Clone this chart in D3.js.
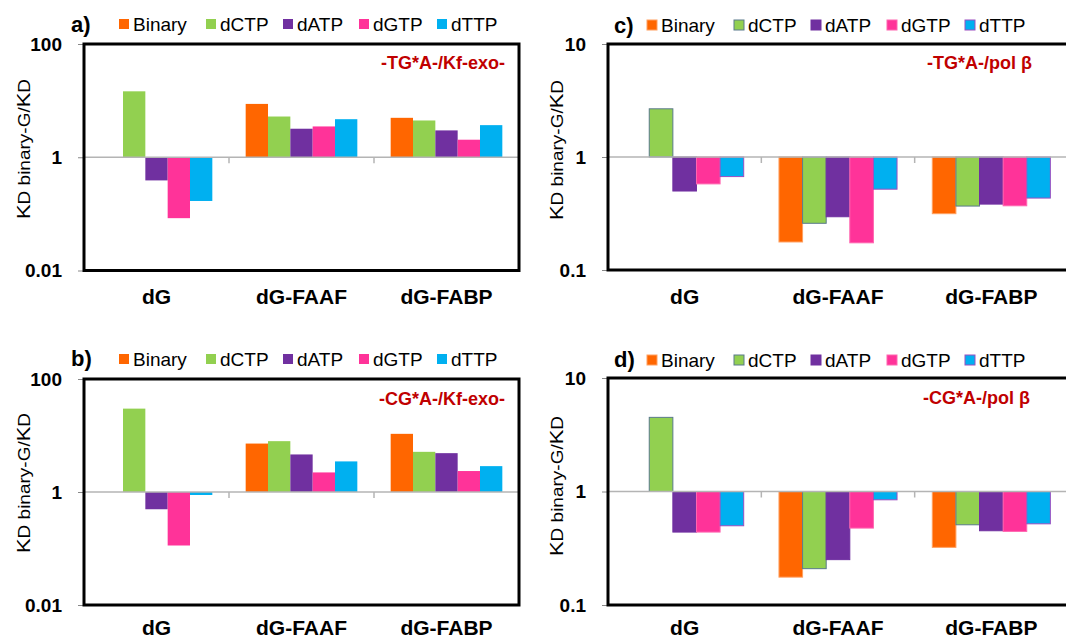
<!DOCTYPE html>
<html lang="en">
<head>
<meta charset="utf-8">
<script src="https://d3js.org/d3.v7.min.js"></script>
<style>
  body { margin: 0; background: #fff; }
  text { font-family: Arial, "Liberation Sans", sans-serif; }
</style>
</head>
<body>
<script>
// categories and series
const categories = ["dG", "dG-FAAF", "dG-FABP"];
const series = ["Binary", "dCTP", "dATP", "dGTP", "dTTP"];
const colors = ["#ff6600", "#92d050", "#7030a0", "#ff3399", "#00b0f0"];

// values per panel, one row per series (Binary, dCTP, dATP, dGTP, dTTP)
const valuesA = [
  [1, 8.75, 4.97],
  [14.6, 5.24, 4.46],
  [0.39, 3.19, 2.98],
  [0.084, 3.5, 2.04],
  [0.169, 4.7, 3.69]
];
const valuesB = [
  [1, 7.2, 10.7],
  [29.9, 7.94, 5.14],
  [0.495, 4.62, 4.87],
  [0.113, 2.22, 2.35],
  [0.885, 3.48, 2.87]
];
const valuesC = [
  [1, 0.177, 0.315],
  [2.67, 0.259, 0.368],
  [0.50, 0.296, 0.383],
  [0.578, 0.174, 0.370],
  [0.671, 0.519, 0.433]
];
const valuesD = [
  [1, 0.176, 0.322],
  [4.5, 0.209, 0.509],
  [0.439, 0.251, 0.451],
  [0.439, 0.476, 0.445],
  [0.499, 0.845, 0.519]
];

// tick labels
const ticksKf = [0.01, 1, 100];
const ticksPol = [0.1, 1, 10];
const tickLabelsKf = ["0.01", "1", "100"];
const tickLabelsPol = ["0.1", "1", "10"];

const svg = d3.select("body").append("svg")
  .attr("width", 1066)
  .attr("height", 639);

// panel layouts
const panels = [
  {label: "a)", note: "-TG*A-/Kf-exo-", values: valuesA, ticks: ticksKf, tickLabels: tickLabelsKf,
   left: 84, right: 519, top: 44, bottom: 270.5, legX: 119, legY: 24, labX: 71, labY: 32,
   noteX: 505, noteY: 69, catY: 304, ylX: 30, ylY: 149, outline: false},
  {label: "b)", note: "-CG*A-/Kf-exo-", values: valuesB, ticks: ticksKf, tickLabels: tickLabelsKf,
   left: 84, right: 519, top: 379, bottom: 605, legX: 119, legY: 359, labX: 71, labY: 366,
   noteX: 505, noteY: 405, catY: 635, ylX: 30, ylY: 483, outline: false},
  {label: "c)", note: "-TG*A-/pol \u03b2", values: valuesC, ticks: ticksPol, tickLabels: tickLabelsPol,
   left: 608, right: 1068, top: 44, bottom: 270, legX: 647, legY: 25, labX: 614, labY: 33,
   noteX: 1032, noteY: 69, catY: 304, ylX: 563, ylY: 150, outline: true},
  {label: "d)", note: "-CG*A-/pol \u03b2", values: valuesD, ticks: ticksPol, tickLabels: tickLabelsPol,
   left: 608, right: 1068, top: 378, bottom: 605, legX: 647, legY: 360, labX: 614, labY: 367,
   noteX: 1030, noteY: 404, catY: 635, ylX: 563, ylY: 486, outline: true}
];

const legendOffsets = [0, 87, 164, 240, 318];
const outlineColors = ["#ffa060", "#5a7a8c", "#7030a0", "#ff66b0", "#9b4fc0"];

panels.forEach(function(p) {
  const g = svg.append("g");

  const x = d3.scaleBand()
    .domain(categories)
    .range([p.left, p.right])
    .paddingInner(0.23)
    .paddingOuter(0.115);

  const xs = d3.scaleBand()
    .domain(series)
    .range([0, x.bandwidth()]);

  const y = d3.scaleLog()
    .domain([p.ticks[0], p.ticks[2]])
    .range([p.bottom, p.top]);

  // bars
  series.forEach(function(s, si) {
    g.selectAll(null)
      .data(p.values[si].map(function(v, ci) { return {cat: categories[ci], value: v}; }))
      .enter()
      .append("rect")
        .attr("x", function(d) { return x(d.cat) + xs(s); })
        .attr("y", function(d) { return Math.min(y(d.value), y(1)); })
        .attr("width", xs.bandwidth())
        .attr("height", function(d) { return Math.abs(y(d.value) - y(1)); })
        .attr("fill", colors[si])
        .attr("stroke", p.outline ? outlineColors[si] : "none")
        .attr("stroke-width", 1);
  });

  // baseline at 1 with category boundary ticks
  g.append("line")
    .attr("x1", p.left).attr("x2", p.right)
    .attr("y1", y(1)).attr("y2", y(1))
    .attr("stroke", "#b4b4b4").attr("stroke-width", 1.5);
  g.selectAll(null)
    .data(categories.slice(1))
    .enter()
    .append("line")
      .attr("x1", function(d) { return x(d) - x.step() * x.paddingInner() / 2; })
      .attr("x2", function(d) { return x(d) - x.step() * x.paddingInner() / 2; })
      .attr("y1", y(1)).attr("y2", y(1) + 6)
      .attr("stroke", "#b4b4b4").attr("stroke-width", 1.5);

  // y axis
  const yAxis = d3.axisLeft(y)
    .tickValues(p.ticks)
    .tickFormat(function(d, i) { return p.tickLabels[i]; })
    .tickSize(6)
    .tickPadding(16);
  const ya = g.append("g")
    .attr("transform", "translate(" + p.left + ",0)")
    .call(yAxis);
  ya.select(".domain").remove();
  ya.selectAll("line").attr("stroke", "#888");
  ya.selectAll("text")
    .attr("font-family", "Arial, 'Liberation Sans', sans-serif")
    .attr("font-size", 19)
    .attr("font-weight", "bold")
    .attr("fill", "#000");

  // frame
  g.append("rect")
    .attr("x", p.left).attr("y", p.top)
    .attr("width", p.right - p.left).attr("height", p.bottom - p.top)
    .attr("fill", "none").attr("stroke", "#000").attr("stroke-width", 3);

  // category labels
  g.selectAll(null)
    .data(categories)
    .enter()
    .append("text")
      .attr("x", function(d) { return x(d) + x.bandwidth() / 2; })
      .attr("y", p.catY)
      .attr("text-anchor", "middle")
      .attr("font-size", 21)
      .attr("font-weight", "bold")
      .text(function(d) { return d; });

  // y label
  const yl = g.append("text")
    .attr("transform", "translate(" + p.ylX + "," + p.ylY + ") rotate(-90) scale(1,0.85)")
    .attr("text-anchor", "middle");
  yl.append("tspan").attr("font-size", 22).text("K");
  yl.append("tspan").attr("font-size", 19).text("D binary-G/");
  yl.append("tspan").attr("font-size", 22).text("K");
  yl.append("tspan").attr("font-size", 19).text("D");

  // panel label
  g.append("text")
    .attr("x", p.labX).attr("y", p.labY)
    .attr("font-size", 22).attr("font-weight", "bold")
    .text(p.label);

  // note
  g.append("text")
    .attr("x", p.noteX).attr("y", p.noteY)
    .attr("text-anchor", "end")
    .attr("font-size", 18).attr("font-weight", "bold")
    .attr("fill", "#c00000")
    .text(p.note);

  // legend
  series.forEach(function(s, si) {
    const lx = p.legX + legendOffsets[si];
    g.append("rect")
      .attr("x", lx).attr("y", p.legY - 5)
      .attr("width", 10).attr("height", 10)
      .attr("fill", colors[si])
      .attr("stroke", p.outline ? outlineColors[si] : "none");
    g.append("text")
      .attr("x", lx + 14).attr("y", p.legY + 6.5)
      .attr("font-size", 19)
      .text(s);
  });
});
</script>
</body>
</html>
